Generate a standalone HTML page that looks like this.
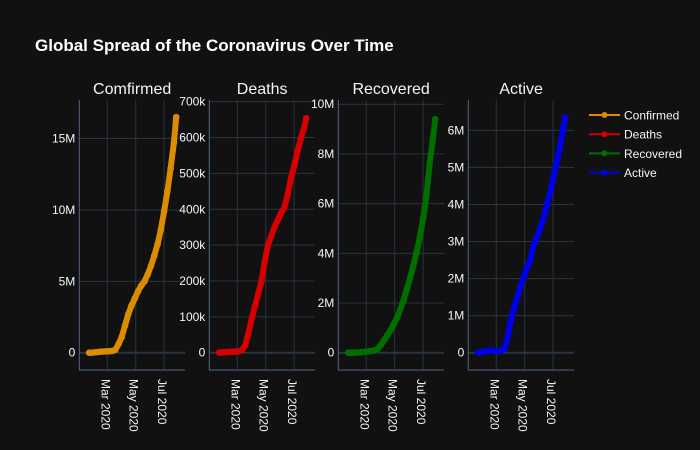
<!DOCTYPE html>
<html><head><meta charset="utf-8"><style>
html,body{margin:0;padding:0;background:#111111;}
svg{display:block;font-family:"Liberation Sans",Arial,sans-serif;}
</style></head><body>
<svg id="chart" width="700" height="450" viewBox="0 0 700 450" xmlns="http://www.w3.org/2000/svg">
<rect width="700" height="450" fill="#111111"/>
<text x="35" y="51" fill="#ffffff" font-size="17" font-weight="bold">Global Spread of the Coronavirus Over Time</text>
</svg>
<script>
const dates = ["2020-01-22","2020-01-29","2020-02-05","2020-02-12","2020-02-19","2020-02-26","2020-03-04","2020-03-11","2020-03-18","2020-03-25","2020-04-01","2020-04-08","2020-04-15","2020-04-22","2020-04-29","2020-05-06","2020-05-13","2020-05-20","2020-05-27","2020-06-03","2020-06-10","2020-06-17","2020-06-24","2020-07-01","2020-07-08","2020-07-15","2020-07-22","2020-07-27"];
const confirmed = [600,6000,30000,60000,80000,90000,100000,120000,200000,600000,1100000,1900000,2700000,3300000,3800000,4300000,4700000,5000000,5500000,6100000,6800000,7600000,8600000,9900000,11300000,12900000,14700000,16500000];
const deaths = [500,1000,1500,2000,2500,3000,4000,8000,20000,55000,95000,130000,165000,200000,255000,300000,325000,350000,370000,390000,405000,440000,485000,520000,560000,595000,625000,654000];
const recovered = [0,2000,5000,10000,20000,30000,50000,65000,90000,150000,300000,500000,700000,900000,1150000,1400000,1750000,2100000,2550000,3000000,3500000,4050000,4650000,5400000,6300000,7600000,8600000,9400000];
const active = [0,10000,30000,50000,60000,50000,40000,50000,100000,400000,850000,1200000,1500000,1800000,2050000,2300000,2500000,2900000,3100000,3350000,3600000,3950000,4300000,4700000,5100000,5500000,6000000,6350000];
const seriesNames = ["Confirmed","Deaths","Recovered","Active"];
const xTickDates = ["2020-03-01","2020-05-01","2020-07-01"];
const xTickLabels = ["Mar 2020","May 2020","Jul 2020"];
const yTicks1 = [0,5000000,10000000,15000000];
const yTickLabels1 = ["0","5M","10M","15M"];
const yTicks2 = [0,100000,200000,300000,400000,500000,600000,700000];
const yTickLabels2 = ["0","100k","200k","300k","400k","500k","600k","700k"];
const yTicks3 = [0,2000000,4000000,6000000,8000000,10000000];
const yTickLabels3 = ["0","2M","4M","6M","8M","10M"];
const yTicks4 = [0,1000000,2000000,3000000,4000000,5000000,6000000];
const yTickLabels4 = ["0","1M","2M","3M","4M","5M","6M"];

const svg = document.getElementById('chart');
const NS = 'http://www.w3.org/2000/svg';
function mk(tag, attrs, parent){const e=document.createElementNS(NS,tag);for(const k in attrs)e.setAttribute(k,attrs[k]);(parent||svg).appendChild(e);return e;}
const DAY = 86400000;
const refDate = Date.parse("2020-03-01");
const pxPerDay = 0.4656;
const plotTop = 100, plotBottom = 370;
const panels = [
  {title:"Comfirmed",left:79.3,data:confirmed,color:"#dc8c00",ymin:-1210000,ymax:17700000,ticks:yTicks1,labels:yTickLabels1},
  {title:"Deaths",left:209.3,data:deaths,color:"#d60000",ymin:-48200,ymax:704700,ticks:yTicks2,labels:yTickLabels2},
  {title:"Recovered",left:338.3,data:recovered,color:"#006f00",ymin:-696000,ymax:10170000,ticks:yTicks3,labels:yTickLabels3},
  {title:"Active",left:468.3,data:active,color:"#0000e6",ymin:-467000,ymax:6820000,ticks:yTicks4,labels:yTickLabels4}
];
const pw = 105.7;
panels.forEach((p,i)=>{
  const g = mk('g',{});
  
  
  const xs = d => p.left + 28 + (Date.parse(d)-refDate)/DAY*pxPerDay;
  const ys = v => plotBottom - (v-p.ymin)/(p.ymax-p.ymin)*(plotBottom-plotTop);
  xTickDates.forEach((d,j)=>{
    const l = mk('line',{x1:xs(d),x2:xs(d),y1:plotTop,y2:plotBottom,stroke:'#283442','stroke-width':1},g);
    
    
    const t = mk('text',{x:0,y:0,fill:'#f2f5fa','font-size':12,transform:`translate(${xs(d)-6},379) rotate(90)`},g);
    
    
    t.textContent = xTickLabels[j];
  });
  p.ticks.forEach((v,j)=>{
    const l = mk('line',{x1:p.left,x2:p.left+pw,y1:ys(v),y2:ys(v),stroke:'#283442','stroke-width':v===0?2:1},g);
    
    
    const t = mk('text',{x:p.left-4,y:ys(v)+4,fill:'#f2f5fa','font-size':12,'text-anchor':'end'},g);
    
    
    t.textContent = p.labels[j];
  });
  const ax = mk('path',{d:`M${p.left},${plotTop} V${plotBottom} H${p.left+pw}`,stroke:'#506784','stroke-width':1,fill:'none'},g);
  
  
  const tt = mk('text',{x:p.left+pw/2,y:94,fill:'#f2f5fa','font-size':16,'text-anchor':'middle'},g);
  
  
  tt.textContent = p.title;
  const pts = dates.map((d,k)=>xs(d).toFixed(1)+','+ys(p.data[k]).toFixed(1)).join(' ');
  const line = mk('polyline',{points:pts,fill:'none',stroke:p.color,'stroke-width':6,'stroke-linecap':'round','stroke-linejoin':'round'},g);
  
  
  dates.forEach((d,k)=>{
    const c = mk('circle',{cx:xs(d),cy:ys(p.data[k]),r:3.3,fill:p.color},g);
    
    
  });
});
const lg = mk('g',{});


seriesNames.forEach((n,i)=>{
  const y = 115 + i*19.2;
  const e = mk('g',{},lg);
  
  
  mk('line',{x1:589,x2:620,y1:y,y2:y,stroke:panels[i].color,'stroke-width':2},e);
  mk('circle',{cx:604.5,cy:y,r:3,fill:panels[i].color},e);
  const t = mk('text',{x:624,y:y+4.5,fill:'#f2f5fa','font-size':12},e);
  t.textContent = n;
});
</script>
</body></html>
